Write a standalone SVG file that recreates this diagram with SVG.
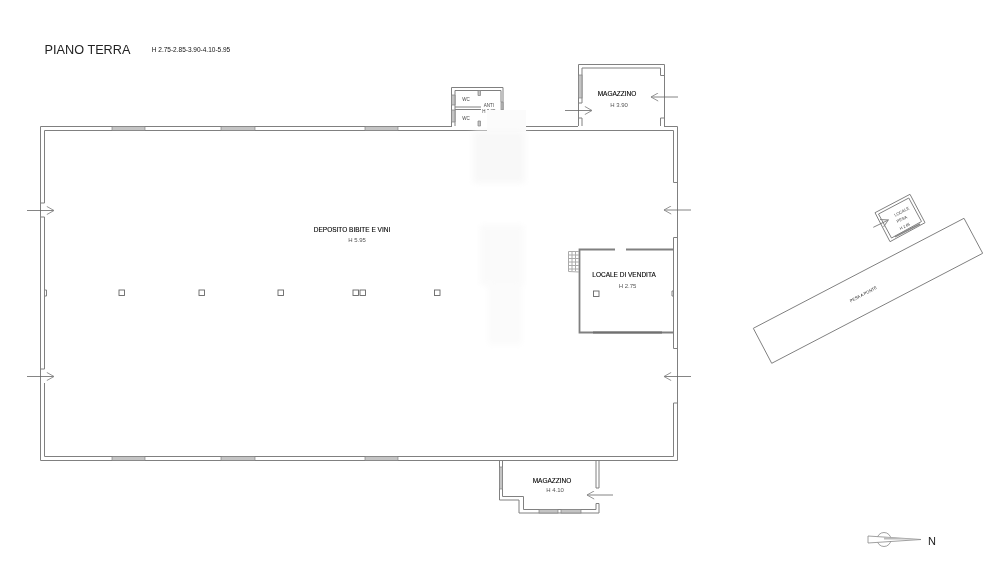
<svg xmlns="http://www.w3.org/2000/svg" width="1000" height="565" viewBox="0 0 1000 565">
<style>
text{font-family:"Liberation Sans",Arial,sans-serif;fill:#333;text-anchor:middle}
.w{fill:none;stroke:#808080;stroke-width:1}
.wd{fill:#c4c4c4;stroke:#808080;stroke-width:.7}
.p{fill:#fff;stroke:#666;stroke-width:.9}
.a{fill:none;stroke:#666;stroke-width:.8}
.h{fill:none;stroke:#888;stroke-width:.8}
.n{font-size:6.500px;fill:#000;stroke:#000;stroke-width:.12}
.s{font-size:6px;fill:#555}
.t{font-size:4.500px;fill:#444}
</style>
<defs>
<marker id="arr" viewBox="0 0 10 10" refX="9" refY="5" markerWidth="9" markerHeight="9" markerUnits="userSpaceOnUse" orient="auto"><path d="M1 .5 9 5 1 9.5" fill="none" stroke="#888" stroke-width="1"/></marker>
<filter id="soft" x="0" y="0" width="100%" height="100%"><feGaussianBlur stdDeviation=".35"/></filter>
<filter id="fade" x="-20%" y="-20%" width="140%" height="140%"><feGaussianBlur stdDeviation="3"/></filter>
</defs>
<rect width="1000" height="565" fill="#fff"/>
<g filter="url(#soft)">

<g id="title">
<text x="87.500" y="54" style="font-size:12.700px;fill:#222">PIANO TERRA</text>
<text x="191" y="52" style="font-size:6.500px;fill:#111">H 2.75-2.85-3.90-4.10-5.95</text>
</g>

<g id="deposito">
<path class="w" d="M452 126.500H40.500V460.500H677.500V126.500H664M578 126.500H503"/>
<path class="w" d="M44.500 203V130.500H673.500V182.500H677M44.500 217V369H40.500M44.500 383V456.500H673.500V403H677M44.500 203H40.500M44.500 217H40.500M673.500 237.500H677M673.500 237.500V348.500H677"/>
<path class="w" d="M44.500 290H46.500V296H44.500"/>
<g class="wd"><rect x="112" y="126.500" width="33" height="4"/><rect x="221" y="126.500" width="34" height="4"/><rect x="365" y="126.500" width="33" height="4"/><rect x="112" y="456.500" width="33" height="4"/><rect x="221" y="456.500" width="34" height="4"/><rect x="365" y="456.500" width="33" height="4"/></g>
<g class="p"><rect x="119" y="290" width="5.500" height="5.500"/><rect x="199" y="290" width="5.500" height="5.500"/><rect x="278" y="290" width="5.500" height="5.500"/><rect x="353" y="290" width="5.500" height="5.500"/><rect x="360" y="290" width="5.500" height="5.500"/><rect x="434.500" y="290" width="5.500" height="5.500"/></g>
<text class="n" x="352" y="232">DEPOSITO BIBITE E VINI</text>
<text class="s" x="357" y="242">H 5.95</text>
</g>

<g id="servizi">
<path class="w" d="M451.500 126V87.500H503V126M455 126V90.500H501V102M501 110V126M455 107H481M455 109.500H481"/>
<path class="wd" d="M451.500 95h3.500v10h-3.500zM451.500 110h3.500v12h-3.500zM501 102h2v8h-2zM478 90.500h2.500v5h-2.500zM478 121h2.500v5h-2.500z"/>
<text class="t" x="466" y="101">WC</text>
<text class="t" x="466" y="120">WC</text>
<text class="t" x="489" y="107">ANTI</text>
<text class="t" x="489" y="113">H 2.85</text>
</g>

<g id="magazzino-nord">
<path class="w" d="M578.500 126V64.500H664.500V126M582 126V118M582 103V68H660.500V75.500M660.500 118V126M660.500 75.500H664.500M660.500 118H664.500M582 103H578.500M582 118H578.500"/>
<rect class="wd" x="578.500" y="75" width="3.500" height="23"/>
<text class="n" x="617" y="96">MAGAZZINO</text>
<text class="s" x="619" y="107">H 3.90</text>
</g>

<g id="locale-vendita">
<path d="M615 249.500H579.500V332.500H674M626 249.500H674" fill="none" stroke="#808080" stroke-width="1.800"/>
<path d="M593 332.500H662" stroke="#707070" stroke-width="2"/>
<path class="w" d="M568.500 251.500H579M568.500 255H579M568.500 258.500H579M568.500 262H579M568.500 265.500H579M568.500 269H579M568.500 251.500V271.500L579 272M572 251.500V271M575.500 251.500V271" style="stroke:#aaa"/>
<rect class="p" x="593.500" y="291" width="5.500" height="5.500"/>
<path class="w" d="M674 291H672V296H674"/>
<text class="n" x="624" y="277">LOCALE DI VENDITA</text>
<text class="s" x="627.500" y="288">H 2.75</text>
</g>

<g id="magazzino-sud">
<path class="w" d="M499.500 460.500V500H519V513H599V503.500M599 488V460.500M502.500 460.500V496.500H523.500V509.500H596V503.500H599M596 488H599M596 488V460.500"/>
<rect class="wd" x="499.500" y="467" width="3" height="22"/>
<rect class="wd" x="539" y="509.500" width="19" height="3.500"/>
<rect class="wd" x="561" y="509.500" width="20" height="3.500"/>
<text class="n" x="552" y="483">MAGAZZINO</text>
<text class="s" x="555" y="492">H 4.10</text>
</g>

<g id="pesa-a-ponte">
<path class="w" d="M753.300 328.300 964 218.300 982.700 253.300 771.700 363.300Z"/>
<text transform="translate(864 295.500) rotate(-27.500)" style="font-size:4.200px;fill:#222">PESA A PONTE</text>
</g>

<g id="locale-pesa">
<path class="w" d="M875 212.700 910 194.300 925 222.700 890 241.700Z"/>
<path class="w" d="M878.500 214 908.800 198 921.500 221.500 891.500 238Z"/>
<path d="M895 236.700 920 224" stroke="#888" stroke-width="1.600"/>
<g style="font-size:4.200px;fill:#333">
<text transform="translate(902.500 213) rotate(-27.500)" style="font-size:4.200px">LOCALE</text>
<text transform="translate(902.500 220.500) rotate(-27.500)" style="font-size:4.200px">PESA</text>
<text transform="translate(905.500 227.500) rotate(-27.500)" style="font-size:3.800px">H 2.85</text>
</g>
</g>

<g id="connectors">
<path class="a" marker-end="url(#arr)" d="M27 210.500H54"/>
<path class="a" marker-end="url(#arr)" d="M27 376.500H54"/>
<path class="a" marker-end="url(#arr)" d="M691 210H664"/>
<path class="a" marker-end="url(#arr)" d="M691 376.500H664"/>
<path class="a" marker-end="url(#arr)" d="M565 110.500H592"/>
<path class="a" marker-end="url(#arr)" d="M678 97H651"/>
<path class="a" marker-end="url(#arr)" d="M613 495H587"/>
<path class="a" marker-end="url(#arr)" d="M873.300 227.300 888.300 220"/>
</g>

<g id="nord">
<circle class="h" cx="884" cy="539.500" r="7"/>
<path d="M868 536 921 539.500 868 543Z" fill="#fff" stroke="#888" stroke-width=".8"/>
<path d="M884 537V539.500H921Z" fill="#bbb"/>
<text x="932" y="545" style="font-size:11px;fill:#222">N</text>
</g>
</g>

<g id="cancellazione">
<rect x="487" y="110" width="39" height="22" fill="#fbfbfb"/>
<g filter="url(#fade)">
<rect x="473" y="131" width="52" height="52" fill="#f8f8f8"/>
<rect x="480" y="225" width="44" height="60" fill="#fafafa"/>
<rect x="488" y="285" width="34" height="60" fill="#fbfbfb"/>
</g>
</g>
</svg>
